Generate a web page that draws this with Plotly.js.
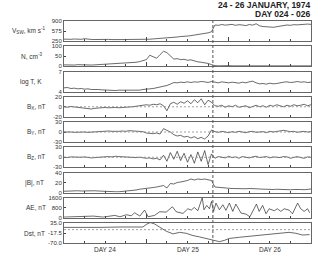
<!DOCTYPE html>
<html><head><meta charset="utf-8">
<script src="https://cdn.plot.ly/plotly-3.0.1.min.js"></script>
<style>html,body{margin:0;padding:0;background:#fff}#chart{width:320px;height:256px}</style>
</head><body><div id="chart"></div>
<script>
// Hours since 00 UT, day 024 (1974)
const HOURS = [0,1,2,3,4,5,6,7,8,9,10,11,12,13,14,15,16,17,18,19,20,21,22,23,24,25,26,27,28,29,30,31,32,33,34,35,36,37,38,39,40,41,42,43,44,45,46,47,48,49,50,51,52,53,54,55,56,57,58,59,60,61,62,63,64,65,66,67,68,69,70,71,72];
const VSW = [310,300,305,315,300,305,325,305,300,298, 305,300,295,302,296,292,300,308,296,300, 298,302,308,300,312,308,318,325,335,330, 350,358,370,380,395,392,410,425,440,455, 470,490,515,550,770,760,785,765,775,790, 760,780,770,750,785,765,810,745,720,700, 705,695,710,720,745,770,760,780,775,790, 785,800,790];
const DENS = [7,6,7,6,8,7,6,7,6,7, 8,8,9,10,10,11,12,13,15,16, 18,20,23,27,33,55,48,40,58,75, 68,50,36,38,33,35,30,32,25,22, 20,18,14,8,3,2,3,2,3,2, 2,3,2,3,2,2,3,2,2,3, 2,2,3,2,2,3,3,2,3,2, 2,3,2];
const LOGT = [4.55,4.6,4.45,4.5,4.4,4.45,4.35,4.4,4.3,4.35, 4.3,4.25,4.2,4.25,4.2,4.15,4.2,4.2,4.15,4.2, 4.2,4.25,4.2,4.3,4.3,4.4,4.45,4.55,4.6,4.75, 4.9,5.1,5.35,5.3,5.4,5.35,5.45,5.35,5.45,5.4, 5.5,5.45,5.35,5.5,5.4,5.3,5.45,5.35,5.3,5.4, 5.35,5.25,5.4,5.3,5.45,5.55,5.3,5.15,5.2,5.1, 5.25,5.15,5.2,5.35,5.4,5.45,5.35,5.4,5.5,5.4, 5.45,5.35,5.4];
const BX = [0,-1,0.5,-0.5,-1,-2,-3,-4,-4.5,-3, -2,-2.5,-1.5,-2,-1,-1.5,-2,-1,-1.5,-0.5, 0,1,2,3,4,3,5,4,6,2, -8,6,9,5,10,7,12,6,14,8, 16,4,13,9,2,1,3,-1,2,0, 3,-1,1,2,-2,1,3,0,2,-1, 3,1,4,2,0,3,1,4,2,3, 5,2,4];
const BY = [0,1,0,-1,0,1,0,-1,0,1, 2,3,2,3,2,1,2,3,2,4, 3,4,2,1,-3,-4,-5,-3,-6,10, 6,0,-8,-12,-10,-15,-13,-18,-14,-20, -16,-21,-12,6,1,-1,2,0,-2,1, -1,2,0,-2,1,2,-1,0,1,-2, 2,0,1,3,5,3,1,2,-1,1, 2,0,1];
const BZ = [0,-1,1,0,-1,0,1,-1,-2,-1, 0,1,0,2,1,3,2,1,0,-1, 0,-1,0,-2,-3,-2,-5,-3,-8,6, -12,14,-6,18,-10,12,-15,8,-18,16, -12,20,-22,10,-3,2,0,-2,3,-1, 1,-3,2,0,-2,1,3,-1,0,2, -2,1,0,-1,2,1,-3,0,2,-1, -3,1,0];
const BMAG = [2.5,3,2.5,3,3.5,3,3.5,4,4,3.5, 3,2.5,1.5,1,1,1.5,1.5,2,2.5,3, 4,5,6.5,7,8,9,10,11,12,14, 9,18,17,20,21,22,24,27,25,27, 26,27,25,24,11,10,9,8,8.5,8, 7.5,8,7,7.5,8,7,7.5,7,6.5,7, 6.5,6,6.5,6,6.5,6,5.5,6,6.5,6, 5.5,6,7];
const AE_HOURS = [0,4.6,8.5,11.4,14.8,16.3,18.2,19.6,20.6,22.1,23.5,24.5,26.4,27.9,29.8,31.6,32.7,34.7,36.1,37.1,38.0,39.0,40.3,40.8,41.6,42.4,43.0,43.6,44.3,45.3,46.3,47.2,48.2,49.2,50.1,51.6,53.0,54.2,55.5,56.1,56.9,57.9,58.9,59.8,61.3,62.2,63.2,64.2,65.6,66.6,68.1,69.0,70.0,71.0,71.6];
const AE_VALUES = [53,80,133,53,187,80,240,160,400,133,613,80,187,480,453,880,480,347,720,613,827,560,1600,640,987,720,1307,507,1173,640,1040,587,1173,507,1093,373,293,80,773,1093,507,987,320,720,560,720,507,720,613,320,1173,720,507,720,400];
const DST_HOURS = [0,4.6,10.5,16.3,20.1,23,24.2,25.2,26.4,27.9,29.8,31.8,33.7,35.6,37.6,39.5,41.4,43.4,45.3,46.8,48.2,51.1,55,58.9,62.7,65.6,67.6,69.5,71.6];
const DST_VALUES = [12,10.5,12,14,16,14,30,37,30,14,-8,-22,-14,-19,-31,-38,-45,-52,-63,-56,-46,-40,-33,-28,-20,-14,-19,-28,-26];
const SHOCK_HOUR = 43.4;
const DAY_LABELS = ['DAY 24','DAY 25','DAY 26'];
const DAY_CENTERS = [12,36,60];
const TITLE_LINES = ['24 - 26 JANUARY, 1974','DAY 024 - 026'];

const PANELS = [
  {name:'V<sub>SW</sub>, km s<sup>-1</sup>', x:HOURS, y:VSW, range:[250,900], tv:[250,575,900], tt:['250','575','900'], lx:28.5, zero:false},
  {name:'N, cm<sup>-3</sup>', x:HOURS, y:DENS, range:[0,100], tv:[0,50,100], tt:['0','50','100'], lx:31.5, zero:false},
  {name:'log T, K', x:HOURS, y:LOGT, range:[4,7], tv:[4,7], tt:['4','7'], lx:31, zero:false},
  {name:'B<sub>X</sub>, nT', x:HOURS, y:BX, range:[-20,20], tv:[-20,0,20], tt:['-20','0','20'], lx:36, zero:true},
  {name:'B<sub>Y</sub>, nT', x:HOURS, y:BY, range:[-30,30], tv:[-30,0,30], tt:['-30','0','30'], lx:36, zero:true},
  {name:'B<sub>Z</sub>, nT', x:HOURS, y:BZ, range:[-30,30], tv:[-30,0,30], tt:['-30','0','30'], lx:36, zero:true},
  {name:'|B|, nT', x:HOURS, y:BMAG, range:[0,40], tv:[0,20,40], tt:['0','20','40'], lx:34, zero:false},
  {name:'AE, nT', x:AE_HOURS, y:AE_VALUES, range:[0,1600], tv:[0,800,1600], tt:['0','800','1600'], lx:36, zero:false},
  {name:'Dst, nT', x:DST_HOURS, y:DST_VALUES, range:[-70,35], tv:[-70,-17.5,35], tt:['-70.0','-17.5','35.0'], lx:34.5, zero:true}
];

const W=320,H=256,L=64,R=9,T=21,B=13;
const plotH = H-T-B, plotW = W-L-R;
const FONT = 'Liberation Sans, Arial, sans-serif';
const traces=[], annotations=[], shapes=[];
const layout = {width:W,height:H,margin:{l:L,r:R,t:T,b:B,pad:0},paper_bgcolor:'#fff',plot_bgcolor:'#fff',showlegend:false,font:{family:FONT,size:6,color:'#222'}};
function py(px){return (H-B-px)/plotH;}
PANELS.forEach((p,i)=>{
  const n = i===0?'':String(i+1);
  const top = T + i*25.25, bot = top + 20;
  const dom = [Math.max(0,py(bot)), Math.min(1,py(top))];
  traces.push({x:p.x,y:p.y,xaxis:'x'+n,yaxis:'y'+n,type:'scatter',mode:'lines',line:{color:'#2a2a2a',width:0.7},hoverinfo:'skip'});
  layout['xaxis'+n] = {domain:[0,1],anchor:'y'+n,range:[0,72],showticklabels:false,ticks:'inside',tick0:0,dtick:24,ticklen:4,tickcolor:'#444',tickwidth:1,
    minor:{ticks:'inside',tick0:0,dtick:6,ticklen:2,tickcolor:'#444',tickwidth:1,showgrid:false},
    showline:true,mirror:true,linecolor:'#666',linewidth:1,showgrid:false,zeroline:false,fixedrange:true};
  layout['yaxis'+n] = {domain:dom,anchor:'x'+n,range:p.range,tickmode:'array',tickvals:p.tv,ticktext:p.tt,ticks:'inside',ticklen:2,tickcolor:'#444',
    tickfont:{family:FONT,size:6,color:'#333'},showline:true,mirror:true,linecolor:'#666',linewidth:1,showgrid:false,zeroline:false,fixedrange:true};
  annotations.push({text:p.name,xref:'paper',yref:'paper',x:(p.lx-L)/plotW,y:(dom[0]+dom[1])/2,xanchor:'center',yanchor:'middle',showarrow:false,font:{family:FONT,size:6.5,color:'#333'}});
  if(p.zero){
    shapes.push({type:'line',xref:'paper',x0:0,x1:1,yref:'y'+n,y0:0,y1:0,line:{color:'#888',width:0.8,dash:'2px,2px'}});
  }
});
shapes.push({type:'line',xref:'x',x0:SHOCK_HOUR,x1:SHOCK_HOUR,yref:'paper',y0:0,y1:1,line:{color:'#555',width:1,dash:'3px,2px'}});
DAY_LABELS.forEach((t,k)=>{
  annotations.push({text:t,xref:'x9',x:DAY_CENTERS[k],yref:'paper',y:py(249.5),xanchor:'center',yanchor:'middle',showarrow:false,font:{family:FONT,size:6.5,color:'#333'}});
});
annotations.push({text:'<b>'+TITLE_LINES[0]+'</b>',xref:'paper',x:(312.5-L)/plotW,yref:'paper',y:py(5.5),xanchor:'right',yanchor:'middle',showarrow:false,font:{family:FONT,size:8.5,color:'#222'}});
annotations.push({text:'<b>'+TITLE_LINES[1]+'</b>',xref:'paper',x:(312.5-L)/plotW,yref:'paper',y:py(14.2),xanchor:'right',yanchor:'middle',showarrow:false,font:{family:FONT,size:8.5,color:'#222'}});
layout.annotations = annotations;
layout.shapes = shapes;
Plotly.newPlot('chart',traces,layout,{staticPlot:true,displayModeBar:false});
</script></body></html>
